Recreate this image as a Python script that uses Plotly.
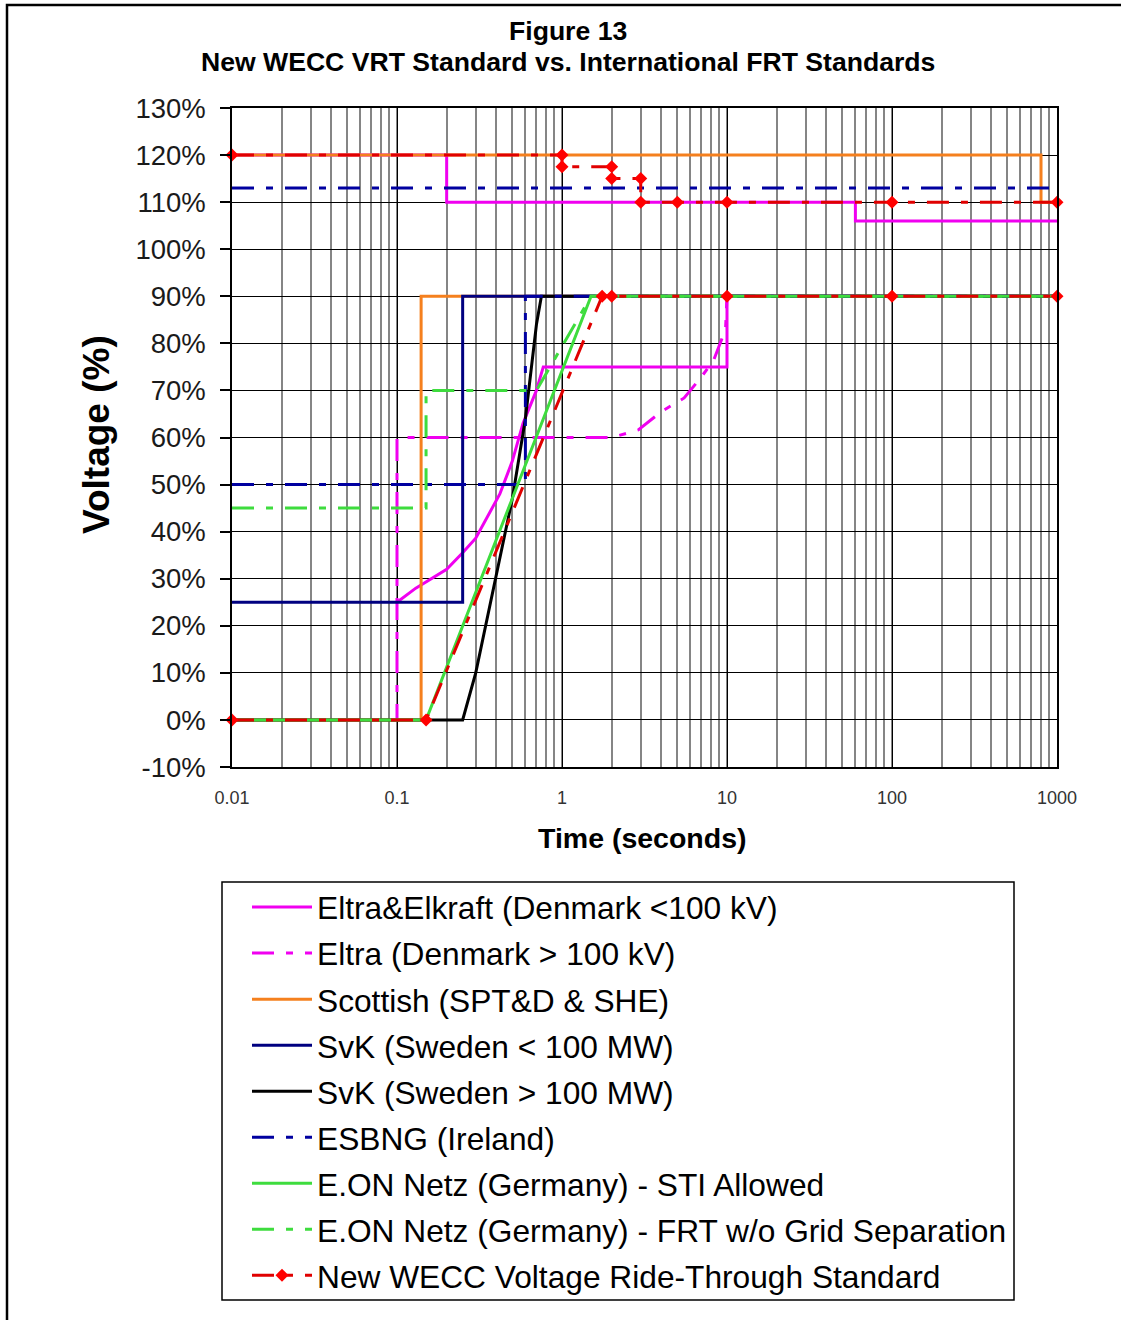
import plotly.graph_objects as go

# ---------------- data (time in seconds, voltage in %) ----------------
eltra_elkraft_t = [0.1, 0.13, 0.2, 0.25, 0.3, 0.42, 0.5, 0.58, 0.7, 0.77, 10, 10, 1000,
                   None, 0.01, 0.2, 0.2, 60, 60, 1000]
eltra_elkraft_v = [25, 28, 32, 35.5, 38.6, 48, 55, 63, 70, 75, 75, 90, 90,
                   None, 120, 120, 110, 110, 106, 106]

eltra_t = [0.01, 0.1, 0.1, 2, 2.9, 4, 5.5, 6.9, 8.3, 9.8, 10, 1000]
eltra_v = [0, 0, 60, 60, 61.6, 65.5, 68.4, 72.6, 76.4, 83, 90, 90]

scottish_t = [0.01, 0.14, 0.14, 1000, None, 0.01, 800, 800, 1000]
scottish_v = [0, 0, 90, 90, None, 120, 120, 110, 110]

svk_small_t = [0.01, 0.25, 0.25, 1000]
svk_small_v = [25, 25, 90, 90]

svk_large_t = [0.01, 0.25, 0.3, 0.42, 0.5, 0.6, 0.7, 0.75, 1000]
svk_large_v = [0, 0, 10, 34, 47, 64, 84, 90, 90]

esbng_t = [0.01, 0.6, 0.6, 1000, None, 0.01, 1000]
esbng_v = [50, 50, 90, 90, None, 113, 113]

eon_sti_t = [0.01, 0.15, 1.5, 1000]
eon_sti_v = [0, 0, 90, 90]

eon_frt_t = [0.01, 0.15, 0.15, 0.7, 1.5, 1000]
eon_frt_v = [45, 45, 70, 70, 90, 90]

wecc_t = [0.01, 0.15, 1.75, 2, 10, 100, 1000,
          None, 0.01, 1, 1, 2, 2, 3, 3, 5, 10, 100, 1000]
wecc_v = [0, 0, 90, 90, 90, 90, 90,
          None, 120, 120, 117.5, 117.5, 115, 115, 110, 110, 110, 110, 110]

series_names = [
    "Eltra&Elkraft (Denmark <100 kV)",
    "Eltra (Denmark > 100 kV)",
    "Scottish (SPT&D & SHE)",
    "SvK (Sweden < 100 MW)",
    "SvK (Sweden > 100 MW)",
    "ESBNG (Ireland)",
    "E.ON Netz (Germany) - STI Allowed",
    "E.ON Netz (Germany) - FRT w/o Grid Separation",
    "New WECC Voltage Ride-Through Standard",
]

x_tick_vals = [0.01, 0.1, 1, 10, 100, 1000]
x_tick_text = ["0.01", "0.1", "1", "10", "100", "1000"]
y_tick_vals = [-10, 0, 10, 20, 30, 40, 50, 60, 70, 80, 90, 100, 110, 120, 130]
y_tick_text = ["-10%", "0%", "10%", "20%", "30%", "40%", "50%", "60%", "70%",
               "80%", "90%", "100%", "110%", "120%", "130%"]

# ---------------- styling ----------------
FONT = "Liberation Sans, Arial, sans-serif"
DASH = "22px,12px,7px,12px"
MAGENTA = "#F000F0"
ORANGE = "#F5801E"
NAVY = "#000080"
BLUE_D = "#0000A0"
GREEN = "#3EDC3E"
RED = "#E00000"

W, H = 1121, 1320
L, R, T, B = 232, 64, 108, 553
PW, PH = W - L - R, H - T - B


def px_x(p):
    return (p - L) / PW


def px_y(p):
    return (H - B - p) / PH


fig = go.Figure()

specs = [
    (eltra_elkraft_t, eltra_elkraft_v, MAGENTA, "solid"),
    (eltra_t, eltra_v, MAGENTA, DASH),
    (scottish_t, scottish_v, ORANGE, "solid"),
    (svk_small_t, svk_small_v, NAVY, "solid"),
    (svk_large_t, svk_large_v, "#000000", "solid"),
    (esbng_t, esbng_v, BLUE_D, DASH),
    (eon_sti_t, eon_sti_v, GREEN, "solid"),
    (eon_frt_t, eon_frt_v, GREEN, DASH),
]
for i, (t, v, c, d) in enumerate(specs):
    fig.add_trace(go.Scatter(
        x=t, y=v, mode="lines", name=series_names[i], legendgroup=f"g{i}",
        line=dict(color=c, width=3, dash=d), connectgaps=False,
    ))

fig.add_trace(go.Scatter(
    x=wecc_t, y=wecc_v, mode="lines+markers", name=series_names[8], legendgroup="g8",
    line=dict(color=RED, width=3, dash=DASH),
    marker=dict(symbol="diamond", size=10, color="#FF0000", line=dict(width=0)),
    connectgaps=False, cliponaxis=False,
))

fig.update_layout(
    width=W, height=H, autosize=False,
    margin=dict(l=L, r=R, t=T, b=B, pad=0),
    paper_bgcolor="white", plot_bgcolor="white",
    font=dict(family=FONT, color="#000000"),
    showlegend=True,
    legend=dict(
        x=px_x(247), y=px_y(880), xanchor="left", yanchor="top",
        bgcolor="rgba(0,0,0,0)", borderwidth=0,
        font=dict(family=FONT, size=31.7, color="#000000"),
        itemwidth=60, tracegroupgap=1.8,
        traceorder="grouped",
    ),
    xaxis=dict(
        type="log", range=[-2, 3],
        tickmode="array", tickvals=x_tick_vals, ticktext=x_tick_text,
        ticks="", showgrid=True, gridcolor="#000000", gridwidth=1.3,
        minor=dict(dtick="D1", showgrid=True, gridcolor="#858585", gridwidth=1.7, ticks=""),
        showline=True, linecolor="#000000", linewidth=1.5, mirror=True,
        tickfont=dict(family=FONT, size=18, color="#333333"),
        ticklabelstandoff=14, zeroline=False,
    ),
    yaxis=dict(
        range=[-10, 130],
        tickmode="array", tickvals=y_tick_vals, ticktext=y_tick_text,
        ticks="outside", ticklen=10, tickwidth=1.5, tickcolor="#000000",
        showgrid=True, gridcolor="#000000", gridwidth=1.3,
        showline=True, linecolor="#000000", linewidth=1.5, mirror=True,
        tickfont=dict(family=FONT, size=27.5, color="#1a1a1a"),
        ticklabelstandoff=9, zeroline=False,
    ),
    shapes=[
        # outer frame
        dict(type="rect", xref="paper", yref="paper",
             x0=px_x(7), x1=px_x(1130), y0=px_y(1330), y1=px_y(5),
             line=dict(color="#000000", width=2.5), fillcolor="rgba(0,0,0,0)"),
        # legend frame
        dict(type="rect", xref="paper", yref="paper",
             x0=px_x(222), x1=px_x(1014), y0=px_y(1300), y1=px_y(882),
             line=dict(color="#000000", width=1.5), fillcolor="rgba(0,0,0,0)"),
    ],
    annotations=[
        dict(text="<b>Figure 13</b>", xref="paper", yref="paper",
             x=px_x(568), y=px_y(31), xanchor="center", yanchor="middle",
             showarrow=False, font=dict(family=FONT, size=26.6, color="#000000")),
        dict(text="<b>New WECC VRT Standard vs. International FRT Standards</b>",
             xref="paper", yref="paper",
             x=px_x(568), y=px_y(62), xanchor="center", yanchor="middle",
             showarrow=False, font=dict(family=FONT, size=26.6, color="#000000")),
        dict(text="<b>Voltage (%)</b>", xref="paper", yref="paper",
             x=px_x(96), y=px_y(435), xanchor="center", yanchor="middle",
             textangle=-90, showarrow=False,
             font=dict(family=FONT, size=37, color="#000000")),
        dict(text="<b>Time (seconds)</b>", xref="paper", yref="paper",
             x=px_x(642), y=px_y(838), xanchor="center", yanchor="middle",
             showarrow=False, font=dict(family=FONT, size=28.5, color="#000000")),
    ],
)

fig.write_html("out.html")
